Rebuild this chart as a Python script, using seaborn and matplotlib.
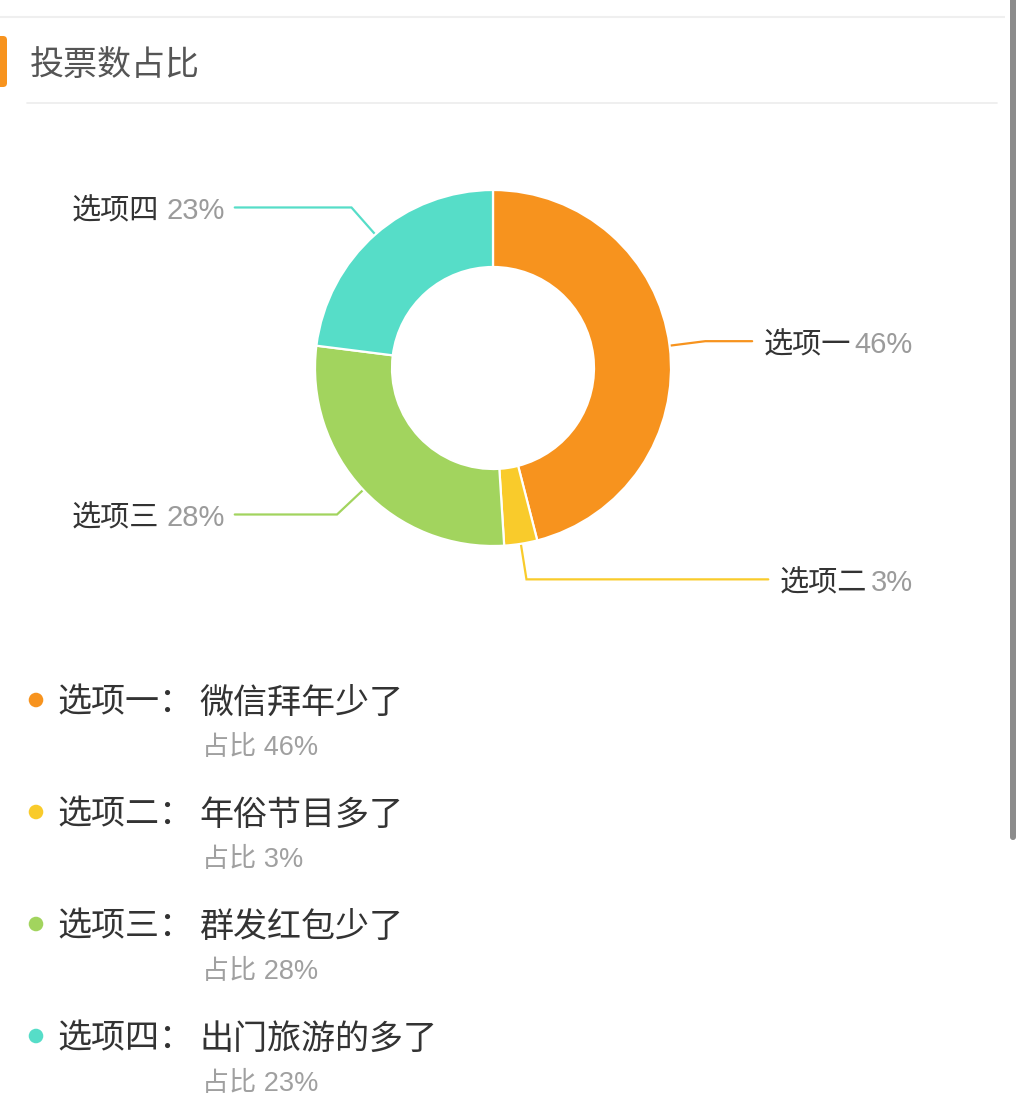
import numpy as np
import matplotlib
matplotlib.use('Agg')
import matplotlib.pyplot as plt
import seaborn as sns
from matplotlib.patches import FancyBboxPatch

# ---- data ----
title = '投票数占比'
options = ['选项一', '选项二', '选项三', '选项四']
descriptions = ['微信拜年少了', '年俗节目多了', '群发红包少了', '出门旅游的多了']
shares = [46, 3, 28, 23]
colors = ['#F7931E', '#F9CB2B', '#A2D45E', '#56DDC8']

sns.set_theme(style='white')
plt.rcParams['font.family'] = ['Liberation Sans', 'Noto Sans CJK SC', 'DejaVu Sans']

W, H = 1024, 1118
fig = plt.figure(figsize=(W / 100, H / 100), dpi=100)
fig.patch.set_facecolor('white')
bg = fig.add_axes([0, 0, 1, 1])
bg.set_xlim(0, W)
bg.set_ylim(H, 0)
bg.axis('off')

dy = 4  # text baseline nudge (px, downward)

# ---- header decorations ----
bg.plot([0, 1005], [17, 17], color='#efefef', lw=1.5, solid_capstyle='butt')
bg.add_patch(FancyBboxPatch((-8, 36), 15, 51, boxstyle='round,pad=0,rounding_size=4',
                            facecolor='#F7931E', edgecolor='none'))
bg.text(30, 62 + dy, title, fontsize=24.5, color='#555555', va='center', ha='left')
bg.plot([27, 997], [103, 103], color='#ececec', lw=1.2)
bg.add_patch(FancyBboxPatch((1010, -10), 6, 850, boxstyle='round,pad=0,rounding_size=3',
                            facecolor='#8c8c8c', edgecolor='none'))

# ---- donut ----
cx, cy, R, r_in = 493, 368, 178, 101
k = 1.03
ax = fig.add_axes([(cx - R * k) / W, 1 - (cy + R * k) / H, 2 * R * k / W, 2 * R * k / H])
wedges, _ = ax.pie(shares, colors=colors, startangle=90, counterclock=False, radius=1,
                   wedgeprops=dict(width=(R - r_in) / R, edgecolor='white', linewidth=1.6))
ax.set_xlim(-k, k)
ax.set_ylim(-k, k)
ax.set_aspect('equal')
ax.axis('off')

# ---- outer labels with leader lines ----
label_fs = 21
gap = 7
items = []
for w, opt, s, c in zip(wedges, options, shares, colors):
    th = np.deg2rad((w.theta1 + w.theta2) / 2)
    ca, sa = np.cos(th), np.sin(th)
    p0 = (cx + (R + 1) * ca, cy - (R + 1) * sa)
    p1 = (cx + (R + 36) * ca, cy - (R + 36) * sa)
    if ca > 0:
        t_pct = bg.text(913, p1[1] + dy, f'{s}%', fontsize=label_fs, color='#9b9b9b', ha='right', va='center')
        t_name = bg.annotate(opt, xy=(0, 0.5), xycoords=t_pct, xytext=(-gap * 0.6, 0),
                             textcoords='offset pixels', fontsize=label_fs, color='#333333',
                             ha='right', va='center')
        items.append((p0, p1, t_name, 'right', c))
    else:
        t_name = bg.text(72, p1[1] + dy, opt, fontsize=label_fs, color='#333333', ha='left', va='center')
        t_pct = bg.annotate(f'{s}%', xy=(1, 0.5), xycoords=t_name, xytext=(gap, 0),
                            textcoords='offset pixels', fontsize=label_fs, color='#9b9b9b',
                            ha='left', va='center')
        items.append((p0, p1, t_pct, 'left', c))

fig.canvas.draw()
renderer = fig.canvas.get_renderer()
inv = bg.transData.inverted()
for p0, p1, t, side, c in items:
    bb = t.get_window_extent(renderer)
    if side == 'right':
        xe = inv.transform((bb.x0, 0))[0] - 11
    else:
        xe = inv.transform((bb.x1, 0))[0] + 10
    bg.plot([p0[0], p1[0], xe], [p0[1], p1[1], p1[1]], color=c, lw=1.6,
            solid_joinstyle='miter')

# ---- legend list ----
row_y = [700 + i * 112 for i in range(len(options))]
sns.scatterplot(x=[36] * len(options), y=row_y, hue=options, palette=colors, s=110,
                edgecolor='none', legend=False, ax=bg, zorder=5)
bg.set_xlim(0, W)
bg.set_ylim(H, 0)
for y, opt, d, s in zip(row_y, options, descriptions, shares):
    bg.text(57, y + dy, opt + '：', fontsize=24.5, color='#333333', ha='left', va='center')
    bg.text(199, y + dy, d, fontsize=24.5, color='#333333', ha='left', va='center')
    bg.text(202, y + 44 + dy, f'占比 {s}%', fontsize=19.5, color='#a0a0a0', ha='left', va='center')

fig.savefig('out.png', dpi=100, facecolor='white')
